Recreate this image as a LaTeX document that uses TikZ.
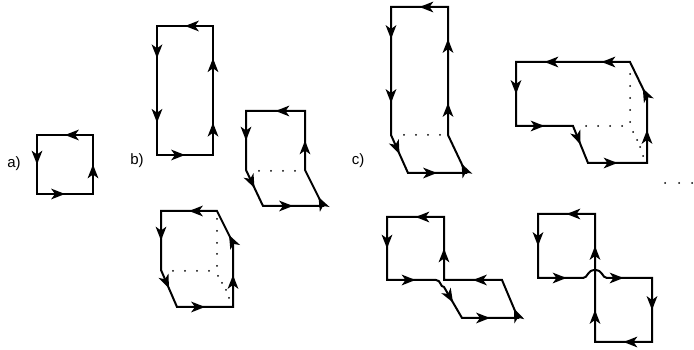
\documentclass[tikz,border=0pt]{standalone}
\usepackage{fontspec}
\setmainfont{Liberation Sans}
\usepackage{tikz}
\usetikzlibrary{decorations.pathreplacing,decorations.markings}
\usetikzlibrary{arrows.meta}
\tikzset{
  >={Stealth[length=11pt,width=8.5pt,inset=3pt]},
  % run a style along every straight piece of a path
  each segment/.style={
    decorate,
    decoration={
      show path construction,
      moveto code={},
      lineto code={\path[#1] (\tikzinputsegmentfirst) -- (\tikzinputsegmentlast);},
      closepath code={\path[#1] (\tikzinputsegmentfirst) -- (\tikzinputsegmentlast);},
    },
  },
  % arrow half way along
  mid arrow/.style={postaction={decorate,decoration={markings,
        mark=at position .5 with {\arrow[#1]{>}}}}},
  % arrow a quarter of the way along
  start arrow/.style={postaction={decorate,decoration={markings,
        mark=at position .25 with {\arrow[#1]{>}}}}},
  % arrows at one and three quarters
  two arrows/.style={postaction={decorate,decoration={markings,
        mark=at position .25 with {\arrow[#1]{>}},
        mark=at position .75 with {\arrow[#1]{>}}}}},
}

\begin{document}
\begin{tikzpicture}[x=0.8pt,y=-0.8pt]
    \useasboundingbox (0,0) rectangle (694,350);
    \node[font=\fontsize{12}{14}\selectfont] (la) at (14,164) {a)};
    \node[font=\fontsize{12}{14}\selectfont] (lb) at (137,161) {b)};
    \node[font=\fontsize{12}{14}\selectfont] (lc) at (358,161) {c)};

    % corners
    \coordinate (aa) at (37,135);  \coordinate (ab) at (93,135);
    \coordinate (ac) at (93,194);  \coordinate (ad) at (37,194);

    \coordinate (b1a) at (157,26);  \coordinate (b1b) at (213,26);
    \coordinate (b1c) at (213,155); \coordinate (b1d) at (157,155);

    \coordinate (b2a) at (246,111); \coordinate (b2b) at (305,111);
    \coordinate (b2c) at (305,170); \coordinate (b2d) at (323,206);
    \coordinate (b2e) at (263,206); \coordinate (b2f) at (246,170);

    \coordinate (b3a) at (161,211); \coordinate (b3b) at (217,211);
    \coordinate (b3c) at (233,243); \coordinate (b3d) at (233,307);
    \coordinate (b3e) at (177,307); \coordinate (b3f) at (161,270);

    \coordinate (c1a) at (391,7);   \coordinate (c1b) at (448,7);
    \coordinate (c1c) at (448,135); \coordinate (c1d) at (466,173);
    \coordinate (c1e) at (408,173); \coordinate (c1f) at (391,135);

    \coordinate (c2a) at (516,62);  \coordinate (c2b) at (630,62);
    \coordinate (c2c) at (647,97);  \coordinate (c2d) at (647,163);
    \coordinate (c2e) at (588,163); \coordinate (c2f) at (573,126);
    \coordinate (c2g) at (516,126);

    \coordinate (c3a) at (387,217); \coordinate (c3b) at (444,217);
    \coordinate (c3c) at (387,280); \coordinate (c3x) at (444,280);
    \coordinate (c3j) at (444,287); \coordinate (c3d) at (502,280);
    \coordinate (c3e) at (518,318); \coordinate (c3f) at (462,318);

    \coordinate (c4a) at (538,214); \coordinate (c4b) at (595,214);
    \coordinate (c4c) at (538,278); \coordinate (c4x) at (595,278);
    \coordinate (c4d) at (652,278); \coordinate (c4e) at (652,342);
    \coordinate (c4f) at (595,342);

    \begin{scope}[line width=1.6pt,line join=miter]
    % a)
    \draw[postaction={each segment={mid arrow}}] (ab)--(aa)--(ad)--(ac)--cycle;
    % b)
    \draw (b1a)--(b1d)--(b1c)--(b1b)--cycle;
    \path[postaction={each segment={mid arrow}}] (b1b)--(b1a) (b1d)--(b1c);
    \path[two arrows] (b1a)--(b1d);
    \path[two arrows] (b1c)--(b1b);

    \draw (b2a)--(b2f)--(b2e)--(b2d)--(b2c)--(b2b)--cycle;
    \path[postaction={each segment={mid arrow}}] (b2b)--(b2a)--(b2f)--(b2e)--(b2d) (b2c)--(b2b);
    \path[start arrow] (b2d)--(b2c);

    \draw (b3a)--(b3f)--(b3e)--(b3d)--(b3c)--(b3b)--cycle;
    \path[postaction={each segment={mid arrow}}] (b3b)--(b3a)--(b3f)--(b3e)--(b3d)--(b3c);
    \path[start arrow] (b3c)--(b3b);
    % c)
    \draw (c1a)--(c1f)--(c1e)--(c1d)--(c1c)--(c1b)--cycle;
    \path[postaction={each segment={mid arrow}}] (c1b)--(c1a) (c1f)--(c1e)--(c1d);
    \path[two arrows] (c1a)--(c1f);
    \path[two arrows] (c1c)--(c1b);
    \path[start arrow] (c1d)--(c1c);

    \draw (c2a)--(c2g)--(c2f)--(c2e)--(c2d)--(c2c)--(c2b)--cycle;
    \path[postaction={each segment={mid arrow}}] (c2a)--(c2g)--(c2f)--(c2e)--(c2d)--(c2c);
    \path[two arrows] (c2b)--(c2a);
    \path[start arrow] (c2c)--(c2b);

    \draw (c3x)--(c3b)--(c3a)--(c3c)--(436,280)
        .. controls (441,280) and (440,287) .. (c3j)--(c3f)--(c3e)--(c3d)--cycle;
    \path[postaction={each segment={mid arrow}}] (c3b)--(c3a)--(c3c)--(c3x)
        (c3j)--(c3f)--(c3e) (c3d)--(c3x)--(c3b);
    \path[start arrow] (c3e)--(c3d);

    \draw (c4x)--(c4b)--(c4a)--(c4c)--(583,278)
        .. controls (588,278) and (587,270) .. (595,270)
        .. controls (603,270) and (602,278) .. (607,278)--(c4d)--(c4e)--(c4f)--cycle;
    \path[postaction={each segment={mid arrow}}] (c4f)--(c4x)--(c4b)--(c4a)--(c4c)--(c4x)--(c4d)--(c4e)--(c4f);
    \end{scope}

    % hidden edges
    \begin{scope}[radius=0.8pt]
    \foreach \x in {259,271,283,295} \fill (\x,171) circle;
    \foreach \x in {173,185,197,209} \fill (\x,271) circle;
    \foreach \y in {219,231,243,254,266} \fill (217,\y) circle;
    \foreach \x/\y in {218/276,222/283,226/290,229/298} \fill (\x,\y) circle;
    \foreach \x in {404,416,428,440} \fill (\x,135) circle;
    \foreach \y in {74,86,98,110,122} \fill (630,\y) circle;
    \foreach \x in {586,598,610,622} \fill (\x,126) circle;
    \foreach \x/\y in {633/132,637/140,640/147,643/156} \fill (\x,\y) circle;
    \foreach \x in {665,679,692} \fill (\x,183) circle;
    \end{scope}
\end{tikzpicture}
\end{document}
